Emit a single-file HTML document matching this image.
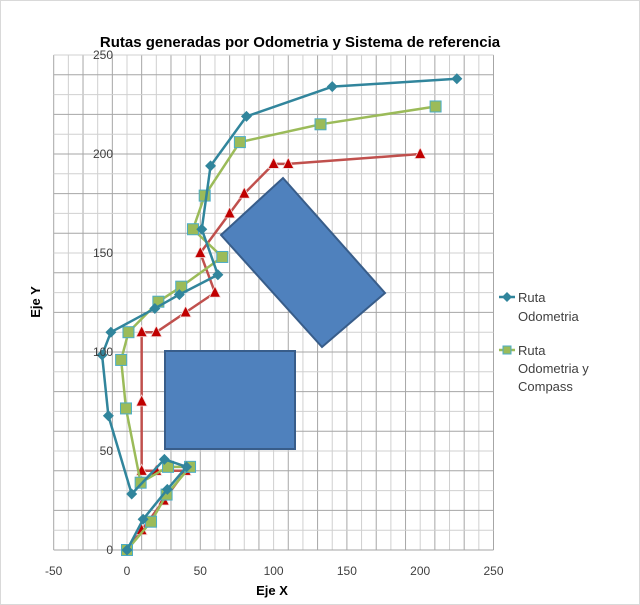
<!DOCTYPE html>
<html><head><meta charset="utf-8"><style>
body{margin:0;background:#fff;}
svg{display:block;font-family:"Liberation Sans",sans-serif;}
</style></head><body>
<svg id="chart" width="640" height="605" viewBox="0 0 640 605">
<rect x="0.5" y="0.5" width="639" height="604" fill="#fff" stroke="#d9d9d9"/>
<text x="300" y="47" text-anchor="middle" font-size="15" font-weight="bold">Rutas generadas por Odometria y Sistema de referencia</text>
<g id="grid"></g>
<g id="shapes">
<rect x="165" y="351" width="130" height="98" fill="#4f81bd" stroke="#385d8a" stroke-width="2"/>
<polygon points="221,235 283,178 385,293 322,347" fill="#4f81bd" stroke="#385d8a" stroke-width="2"/>
</g>
<g id="series"></g>
<g id="ticks"></g>
<text x="272" y="595" text-anchor="middle" font-size="13" font-weight="bold">Eje X</text>
<text transform="translate(40,302) rotate(-90)" text-anchor="middle" font-size="13" font-weight="bold">Eje Y</text>
<g>
<g>
<line x1="499" y1="297" x2="515" y2="297" stroke="#31859c" stroke-width="2.5"/>
<polygon points="507,292 512,297 507,302 502,297" fill="#31859c"/>
<text x="518" y="302" font-size="13" fill="#404040">Ruta</text>
<text x="518" y="321" font-size="13" fill="#404040">Odometria</text>
</g>
<g>
<line x1="499" y1="350" x2="515" y2="350" stroke="#9bbb59" stroke-width="2.5"/>
<rect x="503" y="346" width="8" height="8" fill="#9bbb59" stroke="#4bacc6"/>
<text x="518" y="355" font-size="13" fill="#404040">Ruta</text>
<text x="518" y="373" font-size="13" fill="#404040">Odometria y</text>
<text x="518" y="391" font-size="13" fill="#404040">Compass</text>
</g>
</g>
</svg>
<script>
const xTicks=[-50,0,50,100,150,200,250];
const yTicks=[0,50,100,150,200,250];
const odoX=[0,11,27.5,40.6,25.5,3.2,-12.7,-17,-11,19,35.7,62,51,57,81.5,140,225];
const odoY=[0,15.5,30.6,42,45.8,28.3,67.8,98.5,110,122,129,139,162,194,219,234,238];
const compX=[0,16.4,27,43,28,9.3,-0.7,-4,1,21.4,37,65,45,53,77,132,210.5];
const compY=[0,14.3,28,42,42,34,71.5,96,110,125.4,133,148,162,179,206,215,224];
const refX=[0,10,25,40,20,10,10,10,20,40,60,50,70,80,100,110,200];
const refY=[0,10,25,40,40,40,75,110,110,120,130,150,170,180,195,195,200];

const X0=127,XS=73.3/50,Y0=550,YS=1.98;
const sx=v=>X0+v*XS, sy=v=>Y0-v*YS;
const NS='http://www.w3.org/2000/svg';
function mk(tag,attrs,parent){const e=document.createElementNS(NS,tag);for(const k in attrs)e.setAttribute(k,attrs[k]);parent.appendChild(e);return e;}
const grid=document.getElementById('grid');
for(let v=-50;v<=250;v+=10){
  const l=mk('line',{x1:sx(v),x2:sx(v),y1:sy(0),y2:sy(250),stroke:(v+50)%20===0?'#a6a6a6':'#d0d0d0','stroke-width':1},grid);
  
  
}
for(let v=0;v<=250;v+=10){
  const l=mk('line',{x1:sx(-50),x2:sx(250),y1:sy(v),y2:sy(v),stroke:v%20===0?'#a6a6a6':'#d0d0d0','stroke-width':1},grid);
  
  
}
const ticks=document.getElementById('ticks');
xTicks.forEach(t=>{
  const e=mk('text',{x:sx(t),y:575,'text-anchor':'middle','font-size':12,fill:'#404040'},ticks);
  e.textContent=t;
  
  
});
yTicks.forEach(t=>{
  const e=mk('text',{x:113,y:sy(t)+4,'text-anchor':'end','font-size':12,fill:'#404040'},ticks);
  e.textContent=t;
  
  
});
const ser=document.getElementById('series');
function draw(xs,ys,color,name,marker){
  const g=mk('g',{},ser);
  
  
  const p=mk('polyline',{points:xs.map((x,i)=>sx(x)+','+sy(ys[i])).join(' '),fill:'none',stroke:color,'stroke-width':2.5,'stroke-linejoin':'round'},g);
  
  
  xs.forEach((x,i)=>{
    const cx=sx(x),cy=sy(ys[i]);let m;
    if(marker==='diamond')m=mk('polygon',{points:`${cx},${cy-5.5} ${cx+5.5},${cy} ${cx},${cy+5.5} ${cx-5.5},${cy}`,fill:'#31859c'},g);
    else if(marker==='square')m=mk('rect',{x:cx-5.5,y:cy-5.5,width:11,height:11,fill:'#9bbb59',stroke:'#4bacc6','stroke-width':1},g);
    else m=mk('polygon',{points:`${cx},${cy-6.5} ${cx+5.5},${cy+4.5} ${cx-5.5},${cy+4.5}`,fill:'#c00000',stroke:'#f2dcdb','stroke-width':0.8},g);
    
    
  });
}
draw(refX,refY,'#c0504d','series-referencia','triangle');
draw(compX,compY,'#9bbb59','series-odometria-compass','square');
draw(odoX,odoY,'#31859c','series-odometria','diamond');
</script>
</body></html>
